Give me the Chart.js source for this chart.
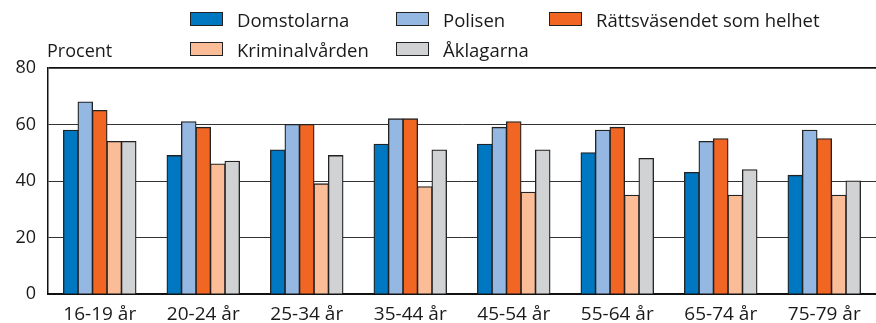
<!DOCTYPE html>
<html>
<head>
<meta charset="utf-8">
<script src="https://cdn.jsdelivr.net/npm/chart.js@4"></script>
<style>
  html, body { margin: 0; padding: 0; background: #fff; }
  #wrap { position: relative; width: 876px; height: 323px; font-family: "Open Sans", sans-serif; color: #1a1a1a; }
  #wrap canvas { position: absolute; left: 0; top: 0; }
  .lg { position: absolute; font-size: 18.5px; line-height: 18px; white-space: nowrap; }
  .lg i { position: absolute; left: 0; top: 1px; width: 33px; height: 14px; border: 1.3px solid #222; box-sizing: border-box; }
  .lg span { position: absolute; left: 47px; top: 0; }
  #unit { position: absolute; left: 47px; top: 38px; font-size: 18px; }
</style>
</head>
<body>
<div id="wrap">
  <canvas id="myChart" width="876" height="323"></canvas>
  <div id="unit">Procent</div>
</div>
<script>
var ages = ["16-19 år", "20-24 år", "25-34 år", "35-44 år", "45-54 år", "55-64 år", "65-74 år", "75-79 år"];

var domstolarna    = [58, 49, 51, 53, 53, 50, 43, 42];
var polisen        = [68, 61, 60, 62, 59, 58, 54, 58];
var rattsvasendet  = [65, 59, 60, 62, 61, 59, 55, 55];
var kriminalvarden = [54, 46, 39, 38, 36, 35, 35, 35];
var aklagarna      = [54, 47, 49, 51, 51, 48, 44, 40];

var yTicks = [0, 20, 40, 60, 80];

var series = [
    { label: "Domstolarna", data: domstolarna, color: "#0077c1" },
    { label: "Polisen", data: polisen, color: "#95b8e2" },
    { label: "Rättsväsendet som helhet", data: rattsvasendet, color: "#f26624" },
    { label: "Kriminalvården", data: kriminalvarden, color: "#fbbd98" },
    { label: "Åklagarna", data: aklagarna, color: "#d1d2d4" }
];

// legend order is column-wise over two rows: 3 on top, 2 below
var legendPos = [[190, 11], [396, 11], [549, 11], [190, 41], [396, 41]];
var wrap = document.getElementById("wrap");
series.forEach(function (s, i) {
    var d = document.createElement("div");
    d.className = "lg";
    d.style.left = legendPos[i][0] + "px";
    d.style.top = legendPos[i][1] + "px";
    d.innerHTML = '<i style="background:' + s.color + '"></i><span>' + s.label + '</span>';
    wrap.appendChild(d);
});

new Chart("myChart", {
    type: "bar",
    data: {
        labels: ages,
        datasets: series.map(function (s) {
            return {
                label: s.label,
                data: s.data,
                backgroundColor: s.color,
                borderColor: "#222",
                borderWidth: 1.3,
                inflateAmount: 0.5,
                categoryPercentage: 0.7,
                barPercentage: 1.0
            };
        })
    },
    options: {
        responsive: false,
        animation: false,
        layout: { padding: { top: 68, right: 0, left: 0, bottom: 0 } },
        plugins: {
            legend: { display: false },
            tooltip: { enabled: false }
        },
        scales: {
            x: {
                grid: { display: false },
                border: { color: "#111", width: 2 },
                ticks: {
                    color: "#1a1a1a",
                    padding: 2,
                    maxRotation: 0,
                    font: { family: "Open Sans", size: 19, lineHeight: 1.1 }
                },
                afterFit: function (axis) { axis.height = 29; }
            },
            y: {
                min: 0,
                max: 80,
                afterBuildTicks: function (axis) {
                    axis.ticks = yTicks.map(function (v) { return { value: v }; });
                },
                grid: {
                    color: function (ctx) { return ctx.tick.value === 80 ? "#111" : "#333"; },
                    lineWidth: function (ctx) { return ctx.tick.value === 80 ? 1.8 : 1; },
                    drawTicks: false
                },
                border: { color: "#111", width: 1.5 },
                ticks: {
                    color: "#1a1a1a",
                    padding: 12,
                    font: { family: "Open Sans", size: 18 }
                },
                afterFit: function (axis) { axis.width = 48; }
            }
        }
    }
});
</script>
</body>
</html>
